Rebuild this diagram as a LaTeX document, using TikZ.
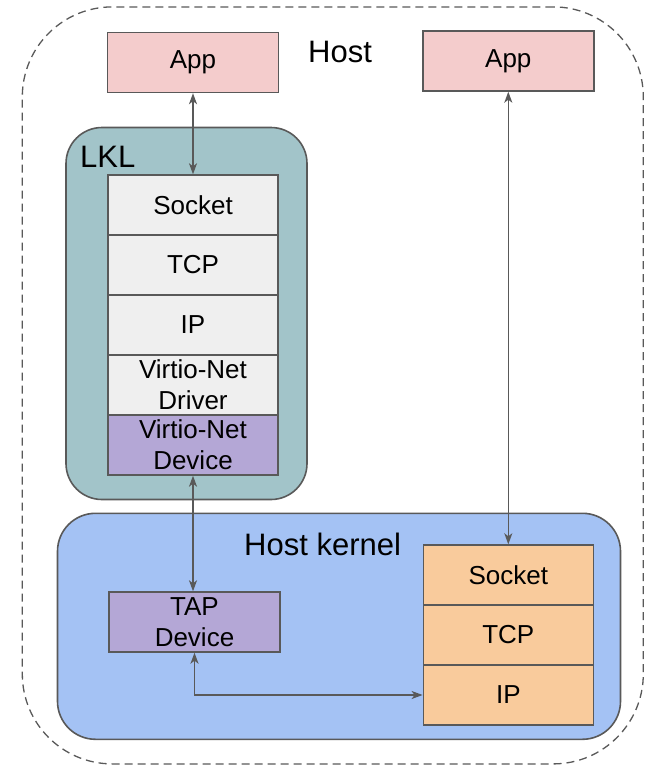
\documentclass[tikz,border=0pt]{standalone}
\usepackage{fontspec}
\setmainfont{Liberation Sans}
\usetikzlibrary{arrows.meta}
\definecolor{edge}{HTML}{595959}
\definecolor{appfill}{HTML}{F4CCCC}
\definecolor{lklfill}{HTML}{A2C4C9}
\definecolor{layerfill}{HTML}{EFEFEF}
\definecolor{devfill}{HTML}{B4A7D6}
\definecolor{kernfill}{HTML}{A4C2F4}
\definecolor{hostlayer}{HTML}{F9CB9C}
\begin{document}
\begin{tikzpicture}[x=1pt,y=-1pt,
  layer/.style={draw=edge, line width=1.4pt, rectangle, inner sep=0pt,
    minimum width=170pt, minimum height=60pt, align=center,
    font=\fontsize{26}{31}\selectfont},
  region/.style={draw=edge, line width=1.6pt, rectangle, inner sep=0pt},
  lbl/.style={inner sep=0pt, font=\fontsize{31}{36}\selectfont},
  conn/.style={draw=edge, line width=1.4pt,
    {Stealth[length=11pt,width=8pt,inset=3pt]}-{Stealth[length=11pt,width=8pt,inset=3pt]}}]
\useasboundingbox (0,0) rectangle (648,766);

% outer host boundary
\node[draw=edge, line width=1.3pt, dash pattern=on 8pt off 5pt, rounded corners=90pt,
  minimum width=621pt, minimum height=757pt, inner sep=0pt] (host) at (332.8,385.4) {};

% containers
\node[region, fill=lklfill, rounded corners=36pt, minimum width=241pt, minimum height=372pt] (lkl) at (186.5,313.5) {};
\node[region, fill=kernfill, rounded corners=38pt, minimum width=563pt, minimum height=226pt] (kern) at (339,626.3) {};

% applications
\node[layer, fill=appfill, minimum width=171pt] (appl) at (193,62.5) {App};
\node[layer, fill=appfill, minimum width=171pt] (appr) at (508.3,61) {App};

% LKL network stack
\node[layer, fill=layerfill] (lsock) at (193,205) {Socket};
\node[layer, fill=layerfill] (ltcp) at (193,265) {TCP};
\node[layer, fill=layerfill] (lip) at (193,325) {IP};
\node[layer, fill=layerfill] (ldrv) at (193,385) {Virtio-Net\\Driver};
\node[layer, fill=devfill] (ldev) at (193,445) {Virtio-Net\\Device};

% host kernel stack
\node[layer, fill=hostlayer] (hsock) at (508.3,575) {Socket};
\node[layer, fill=hostlayer] (htcp) at (508.3,635) {TCP};
\node[layer, fill=hostlayer] (hip) at (508.3,695) {IP};
\node[layer, fill=devfill, minimum width=171pt] (tap) at (194.5,622) {TAP\\Device};

% labels
\node[lbl, anchor=base west] (hostlbl) at (308,62) {Host};
\node[lbl, anchor=base west] (lkllbl) at (80,167) {LKL};
\node[lbl, anchor=base west] (kernlbl) at (244,555) {Host kernel};

% connectors
\draw[conn] (appl.south) -- (lsock.north);
\draw[conn] (appr.south) -- (hsock.north);
\draw[conn] (ldev.south) -- (ldev.south |- tap.north);
\draw[conn] (tap.south) |- (hip.west);
\end{tikzpicture}
\end{document}
